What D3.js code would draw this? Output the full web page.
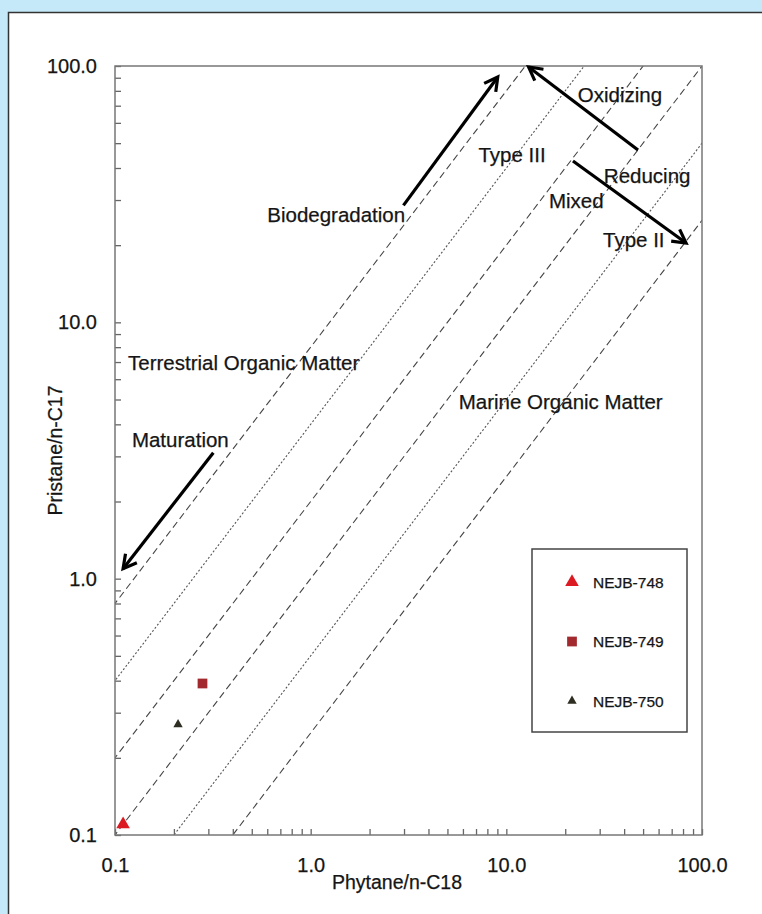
<!DOCTYPE html>
<html>
<head>
<meta charset="utf-8">
<script src="https://cdn.jsdelivr.net/npm/d3@7"></script>
<style>
  body { margin: 0; background: #c6e9f9; }
  svg { display: block; }
  text { font-family: "Liberation Sans", Arial, sans-serif; fill: #151515; stroke: #151515; stroke-width: 0.25; }
</style>
</head>
<body>
<svg id="chart" width="762" height="914"></svg>
<script>
// samples: Phytane/n-C18 vs Pristane/n-C17
const samples = ["NEJB-748", "NEJB-749", "NEJB-750"];
const phytane = [0.11, 0.28, 0.21];
const pristane = [0.11, 0.39, 0.27];
const sampleColors = ["#dc1a22", "#a2292d", "#2e2e22"];
const sampleShapes = [d3.symbolTriangle, d3.symbolSquare, d3.symbolTriangle];
const sampleSizes = [80, 95, 38];

// reference lines Pr/n-C17 = k * Ph/n-C18
const ratios = [8, 4, 2, 1, 0.5, 0.25];
const ratioStyles = ["dash", "dot", "dash", "dash", "dot", "dash"];

const tickLabels = ["0.1", "1.0", "10.0", "100.0"];
const decades = [0.1, 1, 10, 100];

// annotations (data coordinates)
const labelText = ["Oxidizing", "Type III", "Reducing", "Mixed", "Type II", "Biodegradation",
  "Terrestrial Organic Matter", "Maturation", "Marine Organic Matter"];
const labelX = [23.2, 7.2, 31.5, 16.5, 31.2, 0.60, 0.1166, 0.122, 5.71];
const labelY = [72.3, 42.2, 34.9, 27.9, 19.6, 24.6, 6.49, 3.25, 4.61];

const arrowNames = ["Biodegradation", "Oxidizing", "Reducing", "Maturation"];
const arrowFrom = [[2.98, 28.6], [47.1, 47.0], [21.9, 42.6], [0.318, 3.1]];
const arrowTo = [[9.04, 90.6], [13.0, 99.1], [82.9, 20.4], [0.110, 1.094]];

const svg = d3.select("#chart");

// white panel
svg.append("rect")
  .attr("x", 8.5).attr("y", 12.5)
  .attr("width", 800).attr("height", 950)
  .attr("fill", "#fff").attr("stroke", "#333").attr("stroke-width", 1.5);

const pLeft = 115, pRight = 702, pTop = 66, pBottom = 835;

const x = d3.scaleLog().domain([0.1, 100]).range([pLeft, pRight]);
const y = d3.scaleLog().domain([0.1, 100]).range([pBottom, pTop]);

let minorTicks = [];
[0.1, 1, 10].forEach(function(d) {
  for (let i = 1; i < 10; i++) minorTicks.push(d * i);
});
minorTicks.push(100);
minorTicks = minorTicks.map(v => +v.toPrecision(3));

function fmt(v) {
  const i = decades.findIndex(d => Math.abs(d - v) < 1e-9);
  return i >= 0 ? tickLabels[i] : "";
}

svg.append("defs").append("clipPath").attr("id", "plotclip")
  .append("rect")
  .attr("x", pLeft).attr("y", pTop)
  .attr("width", pRight - pLeft).attr("height", pBottom - pTop);

// reference lines
const lines = svg.append("g").attr("clip-path", "url(#plotclip)");
ratios.forEach(function(k, i) {
  lines.append("line")
    .attr("x1", x(0.1 / 10)).attr("y1", y(k * 0.1 / 10))
    .attr("x2", x(1000)).attr("y2", y(k * 1000))
    .attr("stroke", ratioStyles[i] == "dash" ? "#444" : "#555")
    .attr("stroke-width", 1.1)
    .attr("stroke-dasharray", ratioStyles[i] == "dash" ? "7,4" : "2,2");
});

// axes
const yAxis = d3.axisLeft(y).tickValues(minorTicks).tickSize(-6).tickPadding(18).tickFormat(fmt);
const xAxis = d3.axisBottom(x).tickValues(minorTicks).tickSize(-6).tickPadding(23).tickFormat(fmt);

const gy = svg.append("g").attr("transform", `translate(${pLeft},0)`).call(yAxis);
const gx = svg.append("g").attr("transform", `translate(0,${pBottom})`).call(xAxis);

[gx, gy].forEach(function(g) {
  g.select(".domain").remove();
  g.selectAll(".tick line").attr("stroke", "#666").attr("stroke-width", 1.3);
  g.selectAll(".tick text").attr("font-size", 20).attr("fill", "#151515");
});

svg.append("rect")
  .attr("x", pLeft).attr("y", pTop)
  .attr("width", pRight - pLeft).attr("height", pBottom - pTop)
  .attr("fill", "none").attr("stroke", "#777").attr("stroke-width", 1.5);

// axis titles
svg.append("text")
  .attr("x", 397).attr("y", 889)
  .attr("text-anchor", "middle").attr("font-size", 19.5)
  .text("Phytane/n-C18");

svg.append("text")
  .attr("transform", `translate(62,${(pTop + pBottom) / 2}) rotate(-90)`)
  .attr("text-anchor", "middle").attr("font-size", 19.5)
  .text("Pristane/n-C17");

// annotation labels
svg.append("g").selectAll("text")
  .data(labelText)
  .join("text")
  .attr("x", (d, i) => x(labelX[i]))
  .attr("y", (d, i) => y(labelY[i]))
  .attr("font-size", 20.5)
  .text(d => d);

// arrows
function drawArrow(g, p0, p1) {
  const x0 = x(p0[0]), y0 = y(p0[1]), x1 = x(p1[0]), y1 = y(p1[1]);
  const a = Math.atan2(y1 - y0, x1 - x0);
  const len = 15, spread = 0.5;
  g.append("line")
    .attr("x1", x0).attr("y1", y0).attr("x2", x1).attr("y2", y1)
    .attr("stroke", "#000").attr("stroke-width", 3.2);
  g.append("path")
    .attr("d", `M${x1 - len * Math.cos(a - spread)},${y1 - len * Math.sin(a - spread)}L${x1},${y1}L${x1 - len * Math.cos(a + spread)},${y1 - len * Math.sin(a + spread)}`)
    .attr("fill", "none").attr("stroke", "#000").attr("stroke-width", 3.2)
    .attr("stroke-linejoin", "miter");
}
const arrows = svg.append("g");
arrowNames.forEach(function(n, i) { drawArrow(arrows, arrowFrom[i], arrowTo[i]); });

// sample points
svg.append("g").selectAll("path")
  .data(samples)
  .join("path")
  .attr("transform", (d, i) => `translate(${x(phytane[i])},${y(pristane[i])})`)
  .attr("d", (d, i) => d3.symbol(sampleShapes[i], sampleSizes[i])())
  .attr("fill", (d, i) => sampleColors[i]);

// legend
const legend = svg.append("g");
legend.append("rect")
  .attr("x", 532).attr("y", 549).attr("width", 155).attr("height", 183)
  .attr("fill", "#fff").attr("stroke", "#444").attr("stroke-width", 1.5);
const rowY = d3.scalePoint().domain(samples).range([582, 701]);
const item = legend.selectAll("g.item")
  .data(samples)
  .join("g")
  .attr("class", "item")
  .attr("transform", d => `translate(572,${rowY(d)})`);
item.append("path")
  .attr("d", (d, i) => d3.symbol(sampleShapes[i], sampleSizes[i])())
  .attr("fill", (d, i) => sampleColors[i]);
item.append("text")
  .attr("x", 21).attr("dy", "0.36em")
  .attr("font-size", 15.5)
  .attr("stroke-width", 0.1)
  .text(d => d);
</script>
</body>
</html>
